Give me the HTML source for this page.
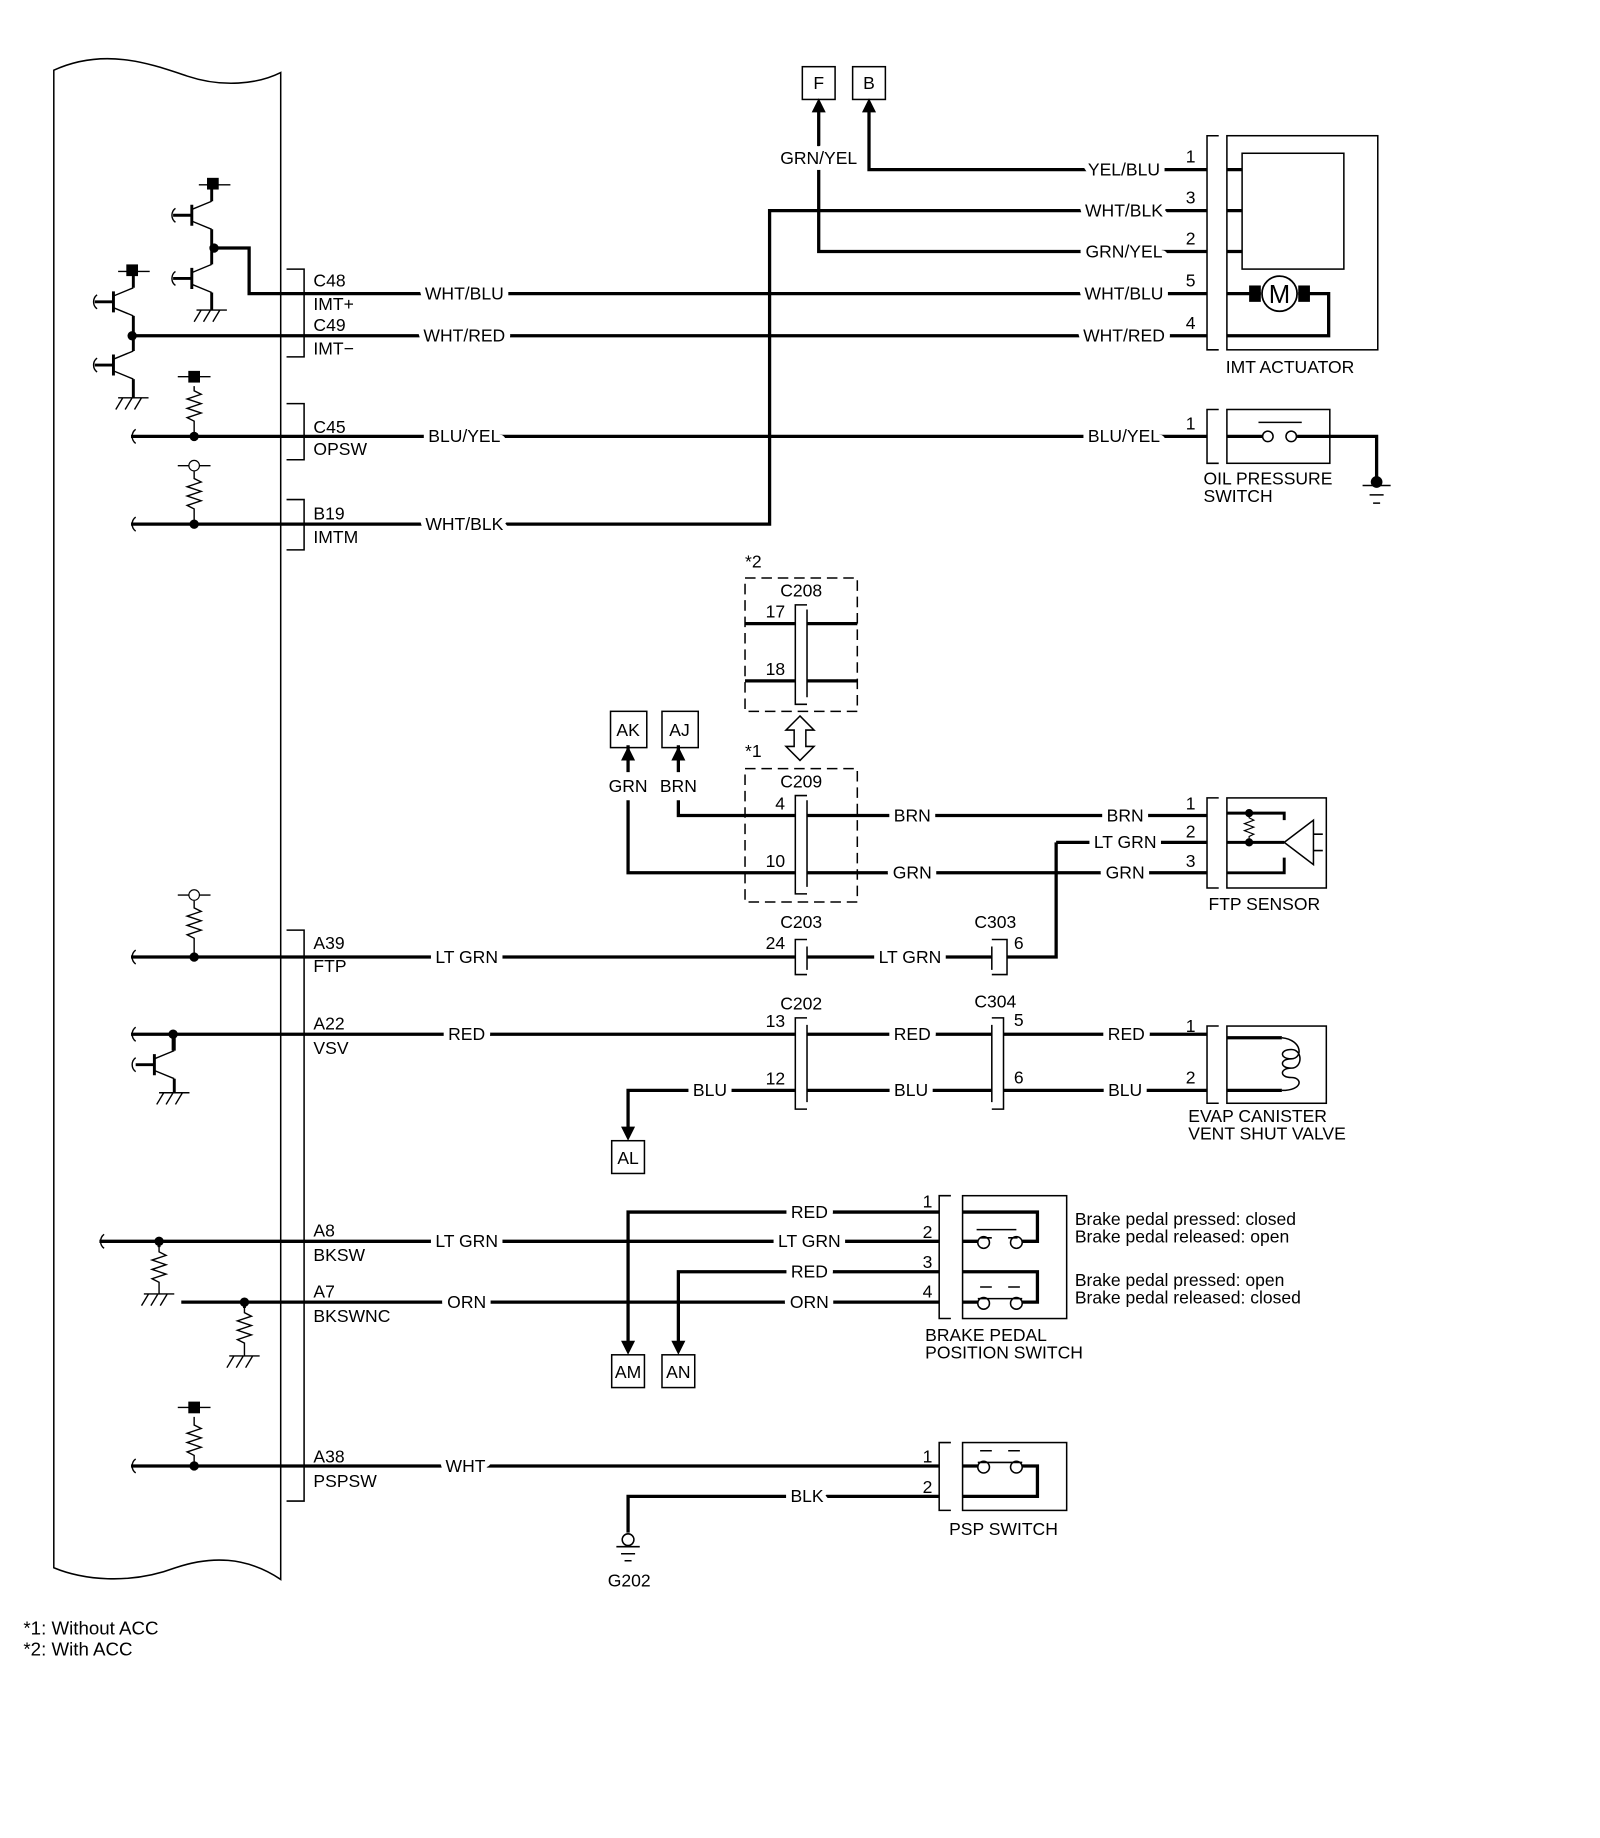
<!DOCTYPE html>
<html><head><meta charset="utf-8"><style>
html,body{margin:0;padding:0;background:#fff}
svg{display:block}
text{font-family:"Liberation Sans",Arial,sans-serif;font-size:15px;fill:#000}
.l{stroke:#fff;stroke-width:10px;paint-order:stroke;stroke-linejoin:round}
</style></head><body>
<svg width="1600" height="1838" viewBox="0 0 1368 1571" preserveAspectRatio="none" xmlns="http://www.w3.org/2000/svg">
<g fill="none" stroke="#000">
<path d="M46,60 C90,40 130,55 160,65 C190,75 220,72 240,62 L240,1350 C210,1330 180,1330 150,1340 C110,1355 70,1350 46,1340 Z" stroke-width="1.3"/>
</g>
<g fill="none" stroke="#000" stroke-width="2.8">
<path d="M245,230 H260 V305 H245" stroke-width="1.3"/>
<path d="M245,345 H260 V393 H245" stroke-width="1.3"/>
<path d="M245,427 H260 V470 H245" stroke-width="1.3"/>
<path d="M245,795 H260 V1283 H245" stroke-width="1.3"/>
<path d="M183,212 H213 V251 H1032"/>
<path d="M113,287 H1032"/>
<path d="M112,373 H1032"/>
<path d="M112,448 H658 V180 H1032"/>
<path d="M743,90 V145 H1032"/>
<path d="M700,90 V215 H1032"/>
<path d="M1049,145 H1062 M1049,180 H1062 M1049,215 H1062"/>
<path d="M1049,251 H1078 M1110,251 H1136 V287 H1049"/>
<path d="M1049,373 H1079 M1109,373 H1177 V408"/>
<path d="M580,684 V697 H680 M690,697 H1032"/>
<path d="M537,684 V746 H680 M690,746 H1032"/>
<path d="M580,637 V660 M537,637 V660"/>
<path d="M637,533 H680 M690,533 H733 M637,582 H680 M690,582 H733"/>
<path d="M903,720 H1032 M903,720 V818 H861"/>
<path d="M112,818 H680 M690,818 H848"/>
<path d="M112,884 H680 M690,884 H848 M858,884 H1032"/>
<path d="M537,968 V932 H680 M690,932 H848 M858,932 H1032"/>
<path d="M1049,887 H1096 M1049,932 H1096"/>
<path d="M537,1150 V1036 H803 M823,1036 H887 V1061 H874 M823,1061 H836"/>
<path d="M85,1061 H803"/>
<path d="M580,1150 V1087 H803 M823,1087 H887 V1113 H874 M823,1113 H836"/>
<path d="M155,1113 H803"/>
<path d="M112,1253 H803 M823,1253 H836 M874,1253 H887 V1279 H823"/>
<path d="M537,1310 V1279 H803"/>
</g>
<g fill="none" stroke="#000" stroke-width="1.3">
<path d="M1042,116 H1032 V299 H1042"/>
<rect x="1049" y="116" width="129" height="183"/>
<rect x="1062" y="131" width="87" height="99"/>
<path d="M1042,350 H1032 V396 H1042"/>
<rect x="1049" y="350" width="88" height="46"/>
<circle cx="1084" cy="373" r="4.5"/><circle cx="1104" cy="373" r="4.5"/>
<path d="M1076,361 H1113"/>
<path d="M1165,415 H1189 M1171,423 H1183 M1174,430 H1180"/>
<rect x="686" y="57" width="28" height="28"/><rect x="729" y="57" width="28" height="28"/>
<rect x="522" y="608" width="31" height="31"/><rect x="566" y="608" width="31" height="31"/>
<rect x="523" y="975" width="28" height="28"/>
<rect x="523" y="1158" width="28" height="28"/><rect x="566" y="1158" width="28" height="28"/>
<rect x="637" y="494" width="96" height="114" stroke-dasharray="9,5"/>
<rect x="637" y="657" width="96" height="114" stroke-dasharray="9,5"/>
<path d="M690,517 H680 V602 H690 M690,521 V596"/>
<path d="M690,680 H680 V764 H690 M690,684 V758"/>
<path d="M690,803 H680 V833 H690 M690,809 V829"/>
<path d="M690,870 H680 V948 H690 M690,876 V942"/>
<path d="M848,803 H861 V833 H848 M848,809 V829"/>
<path d="M848,870 H858 V948 H848 M848,876 V942"/>
<path d="M684,612 L672,624 H679 V638 H672 L684,650 L696,638 H689 V624 H696 Z"/>
<path d="M1042,682 H1032 V759 H1042"/>
<rect x="1049" y="682" width="85" height="77"/>
<path d="M1042,877 H1032 V943 H1042"/>
<rect x="1049" y="877" width="85" height="66"/>
<path d="M1096,887 C1114,889 1114,905 1104,905 C1094,905 1094,897 1104,897 C1114,897 1114,913 1104,913 C1094,913 1094,905 1104,905 M1104,913 C1094,913 1094,921 1104,921 C1114,921 1114,932 1096,932"/>
<path d="M813,1022 H803 V1127 H813"/>
<rect x="823" y="1022" width="89" height="105"/>
<circle cx="841" cy="1062" r="5"/><circle cx="869" cy="1062" r="5"/>
<path d="M835,1051 H869 M838,1058 H848 M862,1058 H870"/>
<circle cx="841" cy="1114" r="5"/><circle cx="869" cy="1114" r="5"/>
<path d="M836,1110 H874 M838,1100 H848 M862,1100 H872"/>
<path d="M813,1233 H803 V1291 H813"/>
<rect x="823" y="1233" width="89" height="58"/>
<circle cx="841" cy="1254" r="5"/><circle cx="869" cy="1254" r="5"/>
<path d="M836,1250 H874 M838,1240 H848 M862,1240 H872"/>
<circle cx="537" cy="1316" r="5"/>
<path d="M527,1322 H547 M531,1328 H543 M534,1334 H540"/>
</g>
<g fill="#000">
<path d="M700,84 L694,96 H706 Z M743,84 L737,96 H749 Z M537,638 L531,650 H543 Z M580,638 L574,650 H586 Z M537,975 L531,963 H543 Z M537,1158 L531,1146 H543 Z M580,1158 L574,1146 H586 Z"/>
<circle cx="1177" cy="412" r="5"/>
</g>
<rect x="1068" y="244" width="10" height="14" fill="#000"/>
<rect x="1110" y="244" width="10" height="14" fill="#000"/>
<circle cx="1094" cy="251" r="15" fill="#fff" stroke="#000" stroke-width="1.5"/>
<text x="1094" y="259" text-anchor="middle" style="font-size:22px">M</text>
<g fill="none" stroke="#000" stroke-width="2.5">
<path d="M1049,695 H1098 V701 M1049,720 H1098 M1049,746 H1098 V733"/>
<path d="M1098,720 L1123,701 V739 Z" stroke-width="1.3"/>
<path d="M1123,713 H1131 M1123,727 H1131" stroke-width="1.3"/>
<path d="M1068,695 L1068,699 L1072,701 L1064,704 L1072,707 L1064,710 L1072,713 L1068,715 V720" stroke-width="1"/>
</g>
<circle cx="1068" cy="695" r="3.5"/><circle cx="1068" cy="720" r="3.5"/>
<g fill="none" stroke="#000" stroke-width="1.2">
<g transform="translate(164,184)"><path d="M-16,0 H0 M0,-9 V9" stroke-width="2.5"/><path d="M0,-5 L17,-12 M0,5 L17,12"/><path d="M17,-12 V-26 M17,12 V28" stroke-width="2.5"/></g>
<g transform="translate(164,238)"><path d="M-16,0 H0 M0,-9 V9" stroke-width="2.5"/><path d="M0,-5 L17,-12 M0,5 L17,12"/><path d="M17,-12 V-26 M17,12 V27" stroke-width="2.5"/></g>
<g transform="translate(97,258)"><path d="M-16,0 H0 M0,-9 V9" stroke-width="2.5"/><path d="M0,-5 L17,-12 M0,5 L17,12"/><path d="M17,-12 V-26 M17,12 V29" stroke-width="2.5"/></g>
<g transform="translate(97,312)"><path d="M-16,0 H0 M0,-9 V9" stroke-width="2.5"/><path d="M0,-5 L17,-12 M0,5 L17,12"/><path d="M17,-12 V-26 M17,12 V28" stroke-width="2.5"/></g>
<g transform="translate(132,910)"><path d="M-16,0 H0 M0,-9 V9" stroke-width="2.5"/><path d="M0,-5 L17,-12 M0,5 L17,12"/><path d="M17,-12 V-26 M17,12 V24" stroke-width="2.5"/></g>
<path d="M168,265 H194 M172,265 L166,275 M180,265 L174,275 M188,265 L182,275"/>
<path d="M101,340 H127 M105,340 L99,350 M113,340 L107,350 M121,340 L115,350"/>
<path d="M136,934 H162 M140,934 L134,944 M148,934 L142,944 M156,934 L150,944"/>
<path d="M123,1106 H149 M127,1106 L121,1116 M135,1106 L129,1116 M143,1106 L137,1116"/>
<path d="M196,1159 H222 M200,1159 L194,1169 M208,1159 L202,1169 M216,1159 L210,1169"/>
<path d="M170,158 H197 M101,232 H128 M152,322 H180 M152,398 H180 M152,765 H180 M152,1203 H180"/>
<path d="M166,330 V334 L172,337 L160,341 L172,345 L160,349 L172,353 L160,357 L166,360 V373"/>
<path d="M166,403 V409 L172,412 L160,416 L172,420 L160,424 L172,428 L160,432 L166,435 V448"/>
<path d="M166,770 V776 L172,779 L160,783 L172,787 L160,791 L172,795 L160,799 L166,802 V818"/>
<path d="M136,1061 V1070 L142,1073 L130,1077 L142,1081 L130,1085 L142,1089 L130,1093 L136,1096 V1106"/>
<path d="M209,1113 V1122 L215,1125 L203,1129 L215,1133 L203,1137 L215,1141 L203,1145 L209,1148 V1159"/>
<path d="M166,1211 V1218 L172,1221 L160,1225 L172,1229 L160,1233 L172,1237 L160,1241 L166,1244 V1253"/>
<path d="M150,178 c-4,3 -4,9 0,12 M150,232 c-4,3 -4,9 0,12 M83,252 c-4,3 -4,9 0,12 M83,306 c-4,3 -4,9 0,12 M116,367 c-4,3 -4,9 0,12 M116,442 c-4,3 -4,9 0,12 M116,812 c-4,3 -4,9 0,12 M116,878 c-4,3 -4,9 0,12 M116,904 c-4,3 -4,9 0,12 M89,1055 c-4,3 -4,9 0,12 M116,1247 c-4,3 -4,9 0,12"/>
</g>
<g stroke="#000" stroke-width="2.5" fill="none">
<path d="M148,884 V898 M136,1061 V1066 M209,1113 V1118"/>
</g>
<g fill="#000">
<rect x="177" y="152" width="10" height="10"/><rect x="108" y="226" width="10" height="10"/>
<rect x="161" y="317" width="10" height="10"/><rect x="161" y="1198" width="10" height="10"/>
<circle cx="183" cy="212" r="4"/><circle cx="113" cy="287" r="4"/><circle cx="166" cy="373" r="4"/><circle cx="166" cy="448" r="4"/>
<circle cx="166" cy="818" r="4"/><circle cx="148" cy="884" r="4"/><circle cx="136" cy="1061" r="4"/><circle cx="209" cy="1113" r="4"/><circle cx="166" cy="1253" r="4"/>
</g>
<circle cx="166" cy="398" r="4.5" fill="#fff" stroke="#000"/>
<circle cx="166" cy="765" r="4.5" fill="#fff" stroke="#000"/>
<g>
<text x="700" y="76" text-anchor="middle">F</text><text x="743" y="76" text-anchor="middle">B</text>
<text x="700" y="140" text-anchor="middle" class="l">GRN/YEL</text>
<text x="268" y="245">C48</text><text x="268" y="265">IMT+</text>
<text x="268" y="283">C49</text><text x="268" y="303">IMT−</text>
<text x="268" y="370">C45</text><text x="268" y="389">OPSW</text>
<text x="268" y="444">B19</text><text x="268" y="464">IMTM</text>
<text x="397" y="256" text-anchor="middle" class="l">WHT/BLU</text>
<text x="397" y="292" text-anchor="middle" class="l">WHT/RED</text>
<text x="397" y="378" text-anchor="middle" class="l">BLU/YEL</text>
<text x="397" y="453" text-anchor="middle" class="l">WHT/BLK</text>
<text x="961" y="150" text-anchor="middle" class="l">YEL/BLU</text>
<text x="961" y="185" text-anchor="middle" class="l">WHT/BLK</text>
<text x="961" y="220" text-anchor="middle" class="l">GRN/YEL</text>
<text x="961" y="256" text-anchor="middle" class="l">WHT/BLU</text>
<text x="961" y="292" text-anchor="middle" class="l">WHT/RED</text>
<text x="961" y="378" text-anchor="middle" class="l">BLU/YEL</text>
<text x="1018" y="139" text-anchor="middle">1</text><text x="1018" y="174" text-anchor="middle">3</text>
<text x="1018" y="209" text-anchor="middle">2</text><text x="1018" y="245" text-anchor="middle">5</text>
<text x="1018" y="281" text-anchor="middle">4</text><text x="1018" y="367" text-anchor="middle">1</text>
<text x="1048" y="319">IMT ACTUATOR</text>
<text x="1029" y="414">OIL PRESSURE</text><text x="1029" y="429">SWITCH</text>
<text x="637" y="485">*2</text><text x="685" y="510" text-anchor="middle">C208</text>
<text x="663" y="528" text-anchor="middle">17</text><text x="663" y="577" text-anchor="middle">18</text>
<text x="637" y="647">*1</text><text x="685" y="673" text-anchor="middle">C209</text>
<text x="667" y="692" text-anchor="middle">4</text><text x="663" y="741" text-anchor="middle">10</text>
<text x="537" y="629" text-anchor="middle">AK</text><text x="581" y="629" text-anchor="middle">AJ</text>
<text x="537" y="677" text-anchor="middle">GRN</text><text x="580" y="677" text-anchor="middle">BRN</text>
<text x="780" y="702" text-anchor="middle" class="l">BRN</text><text x="962" y="702" text-anchor="middle" class="l">BRN</text>
<text x="780" y="751" text-anchor="middle" class="l">GRN</text><text x="962" y="751" text-anchor="middle" class="l">GRN</text>
<text x="962" y="725" text-anchor="middle" class="l">LT GRN</text>
<text x="1018" y="692" text-anchor="middle">1</text><text x="1018" y="716" text-anchor="middle">2</text><text x="1018" y="741" text-anchor="middle">3</text>
<text x="1081" y="778" text-anchor="middle">FTP SENSOR</text>
<text x="268" y="811">A39</text><text x="268" y="831">FTP</text>
<text x="399" y="823" text-anchor="middle" class="l">LT GRN</text>
<text x="685" y="793" text-anchor="middle">C203</text><text x="663" y="811" text-anchor="middle">24</text>
<text x="778" y="823" text-anchor="middle" class="l">LT GRN</text>
<text x="851" y="793" text-anchor="middle">C303</text><text x="871" y="811" text-anchor="middle">6</text>
<text x="268" y="880">A22</text><text x="268" y="901">VSV</text>
<text x="399" y="889" text-anchor="middle" class="l">RED</text>
<text x="685" y="863" text-anchor="middle">C202</text><text x="663" y="878" text-anchor="middle">13</text><text x="663" y="927" text-anchor="middle">12</text>
<text x="780" y="889" text-anchor="middle" class="l">RED</text><text x="963" y="889" text-anchor="middle" class="l">RED</text>
<text x="851" y="861" text-anchor="middle">C304</text><text x="871" y="877" text-anchor="middle">5</text><text x="871" y="926" text-anchor="middle">6</text>
<text x="607" y="937" text-anchor="middle" class="l">BLU</text><text x="779" y="937" text-anchor="middle" class="l">BLU</text><text x="962" y="937" text-anchor="middle" class="l">BLU</text>
<text x="1018" y="882" text-anchor="middle">1</text><text x="1018" y="926" text-anchor="middle">2</text>
<text x="537" y="995" text-anchor="middle">AL</text>
<text x="1016" y="959">EVAP CANISTER</text><text x="1016" y="974">VENT SHUT VALVE</text>
<text x="268" y="1057">A8</text><text x="268" y="1078">BKSW</text>
<text x="268" y="1109">A7</text><text x="268" y="1130">BKSWNC</text>
<text x="399" y="1066" text-anchor="middle" class="l">LT GRN</text>
<text x="399" y="1118" text-anchor="middle" class="l">ORN</text>
<text x="692" y="1041" text-anchor="middle" class="l">RED</text><text x="692" y="1066" text-anchor="middle" class="l">LT GRN</text>
<text x="692" y="1092" text-anchor="middle" class="l">RED</text><text x="692" y="1118" text-anchor="middle" class="l">ORN</text>
<text x="793" y="1032" text-anchor="middle">1</text><text x="793" y="1058" text-anchor="middle">2</text><text x="793" y="1084" text-anchor="middle">3</text><text x="793" y="1109" text-anchor="middle">4</text>
<text x="919" y="1047">Brake pedal pressed: closed</text><text x="919" y="1062">Brake pedal released: open</text>
<text x="919" y="1099">Brake pedal pressed: open</text><text x="919" y="1114">Brake pedal released: closed</text>
<text x="791" y="1146">BRAKE PEDAL</text><text x="791" y="1161">POSITION SWITCH</text>
<text x="537" y="1178" text-anchor="middle">AM</text><text x="580" y="1178" text-anchor="middle">AN</text>
<text x="268" y="1250">A38</text><text x="268" y="1271">PSPSW</text>
<text x="398" y="1258" text-anchor="middle" class="l">WHT</text>
<text x="690" y="1284" text-anchor="middle" class="l">BLK</text>
<text x="793" y="1250" text-anchor="middle">1</text><text x="793" y="1276" text-anchor="middle">2</text>
<text x="858" y="1312" text-anchor="middle">PSP SWITCH</text>
<text x="538" y="1356" text-anchor="middle">G202</text>
<text x="20" y="1397" style="font-size:16px">*1: Without ACC</text>
<text x="20" y="1415" style="font-size:16px">*2: With ACC</text>
</g>
</svg>
</body></html>
